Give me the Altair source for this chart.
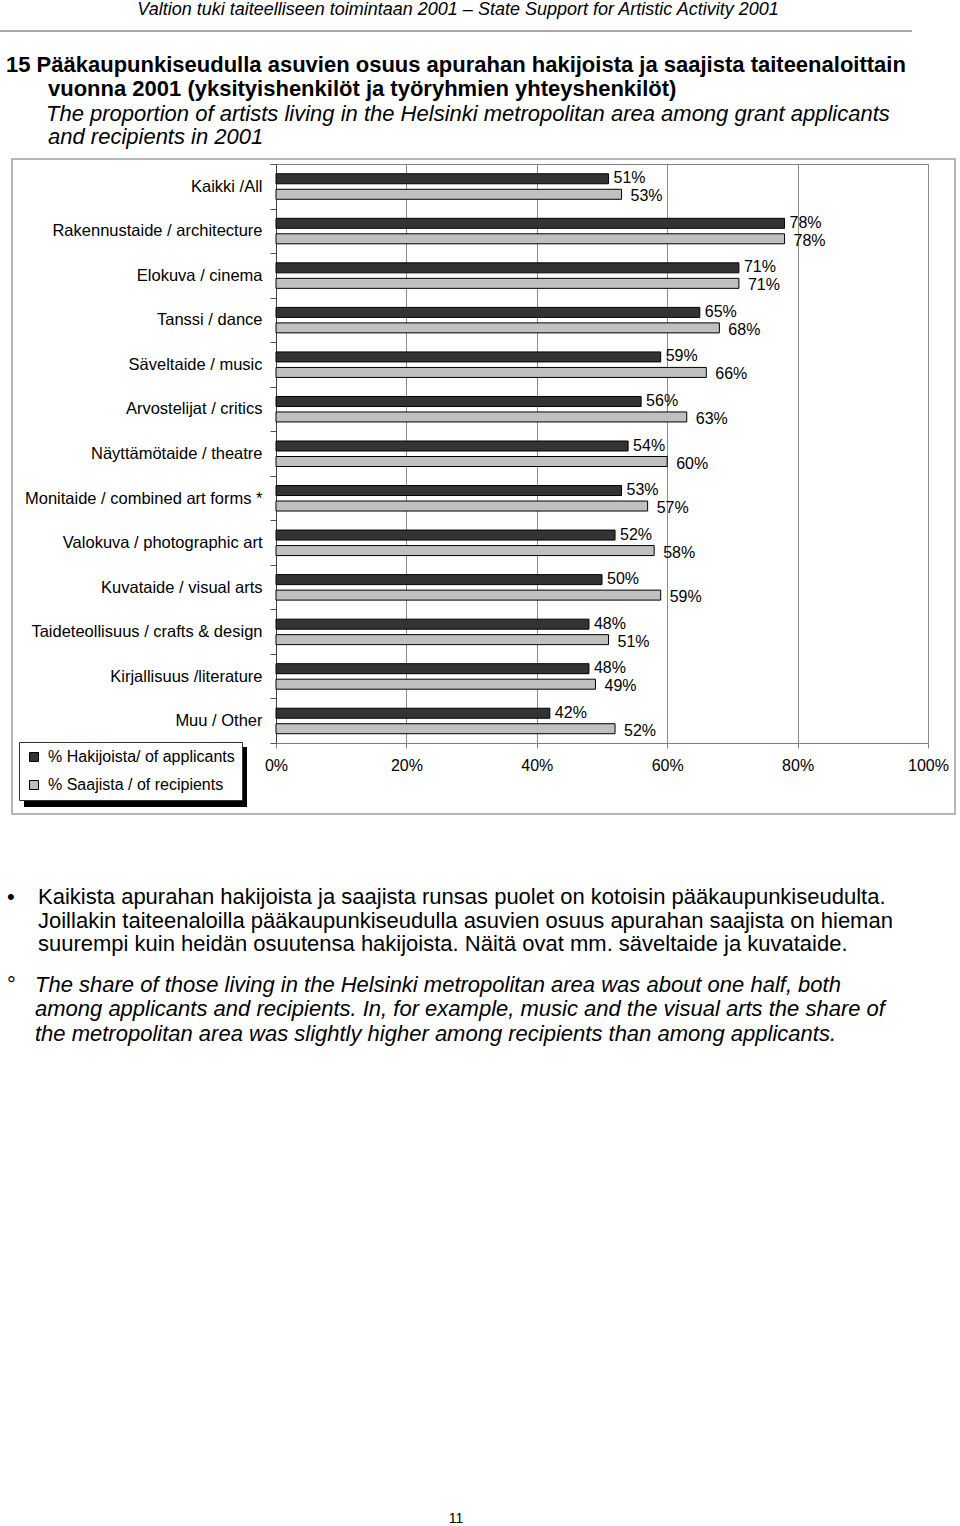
import altair as alt
import pandas as pd

categories = [
    "Kaikki /All",
    "Rakennustaide / architecture",
    "Elokuva / cinema",
    "Tanssi / dance",
    "Säveltaide / music",
    "Arvostelijat / critics",
    "Näyttämötaide / theatre",
    "Monitaide / combined art forms *",
    "Valokuva / photographic art",
    "Kuvataide / visual arts",
    "Taideteollisuus / crafts & design",
    "Kirjallisuus /literature",
    "Muu / Other",
]
applicants = [51, 78, 71, 65, 59, 56, 54, 53, 52, 50, 48, 48, 42]
recipients = [53, 78, 71, 68, 66, 63, 60, 57, 58, 59, 51, 49, 52]
series_names = ["% Hakijoista/ of applicants", "% Saajista / of recipients"]
x_ticks = [0, 20, 40, 60, 80, 100]

rows = []
for c, a, r in zip(categories, applicants, recipients):
    rows.append({"cat": c, "series": series_names[0], "value": a})
    rows.append({"cat": c, "series": series_names[1], "value": r})
df = pd.DataFrame(rows)

DARK = "#333333"
LIGHT = "#c0c0c0"
SANS = "Liberation Sans, Arial, sans-serif"

W, H = 652, 579
OX, OY = 276, 164  # page position of plot origin

base = alt.Chart(df)

y_enc = alt.Y(
    "cat:N",
    sort=categories,
    title=None,
    scale=alt.Scale(paddingInner=0, paddingOuter=0),
    axis=alt.Axis(
        labelFont=SANS, labelFontSize=16.5, labelColor="black", labelLimit=400,
        tickBand="extent", tickSize=6, tickColor="#555555",
        domainColor="#404040", labelPadding=8, grid=False,
    ),
)
x_enc = alt.X(
    "value:Q",
    title=None,
    scale=alt.Scale(domain=[0, 100], nice=False),
    axis=alt.Axis(
        values=x_ticks, labelExpr="datum.value + '%'", labelFont=SANS,
        labelFontSize=16, labelColor="black", grid=True, gridColor="#8c8c8c",
        gridWidth=1, domainColor="#808080", tickColor="#808080", tickSize=5,
        labelPadding=9, labelFlush=False, labelOverlap=False,
    ),
)
color_enc = alt.Color(
    "series:N",
    scale=alt.Scale(domain=series_names, range=[DARK, LIGHT]),
    legend=alt.Legend(
        title=None, orient="none", legendX=-257, legendY=578,
        labelFont=SANS, labelFontSize=16, labelColor="black",
        symbolType="square", symbolSize=81, symbolStrokeColor="black",
        symbolStrokeWidth=1, symbolOpacity=1, labelOffset=6, rowPadding=12,
        padding=7, fillColor="white", strokeColor="#333333",
        labelLimit=400,
    ),
)

shadow = alt.Chart(alt.Data(values=[{}])).mark_rect(color="black").encode(
    x=alt.value(-252), x2=alt.value(-29), y=alt.value(583), y2=alt.value(643)
)

bars_a = base.transform_filter(alt.datum.series == series_names[0]).mark_bar(
    size=10, yOffset=-7.5, stroke="black", strokeWidth=1
).encode(y=y_enc, x=x_enc, color=color_enc)
bars_r = base.transform_filter(alt.datum.series == series_names[1]).mark_bar(
    size=10, yOffset=8, stroke="black", strokeWidth=1
).encode(y=y_enc, x=x_enc, color=color_enc)

lab_a = base.transform_filter(alt.datum.series == series_names[0]).transform_calculate(
    label="datum.value + '%'"
).mark_text(align="left", baseline="middle", dx=5, yOffset=-8, font=SANS,
            fontSize=16, color="black").encode(
    y=alt.Y("cat:N", sort=categories), x="value:Q", text="label:N"
)
lab_r = base.transform_filter(alt.datum.series == series_names[1]).transform_calculate(
    label="datum.value + '%'"
).mark_text(align="left", baseline="middle", dx=9, yOffset=10, font=SANS,
            fontSize=16, color="black").encode(
    y=alt.Y("cat:N", sort=categories), x="value:Q", text="label:N"
)


def txt(s, px, py, size=19, weight="normal", style="normal", align="left",
        font=SANS, color="black"):
    return alt.Chart(alt.Data(values=[{}])).mark_text(
        align=align, baseline="alphabetic", fontSize=size, fontWeight=weight,
        fontStyle=style, font=font, color=color,
    ).encode(x=alt.value(px - OX), y=alt.value(py - OY), text=alt.value(s))


def rule(x1, x2, y1, y2, color, width):
    return alt.Chart(alt.Data(values=[{}])).mark_rule(
        color=color, strokeWidth=width
    ).encode(x=alt.value(x1 - OX), x2=alt.value(x2 - OX),
             y=alt.value(y1 - OY), y2=alt.value(y2 - OY))


frame = alt.Chart(alt.Data(values=[{}])).mark_rect(
    fill="white", fillOpacity=0, stroke="#a0a0a0", strokeWidth=1.5
).encode(x=alt.value(12 - OX), x2=alt.value(955 - OX),
         y=alt.value(159 - OY), y2=alt.value(814 - OY))

texts = [
    txt("Valtion tuki taiteelliseen toimintaan 2001 – State Support for Artistic Activity 2001",
        458, 15, size=18, style="italic", align="center"),
    rule(0, 912, 31, 31, "#a8a8a8", 2),
    txt("15  Pääkaupunkiseudulla asuvien osuus apurahan hakijoista ja saajista taiteenaloittain",
        6, 72, size=22, weight="bold"),
    txt("vuonna  2001 (yksityishenkilöt ja työryhmien yhteyshenkilöt)",
        48, 96, size=22, weight="bold"),
    txt("The proportion of artists living in the Helsinki metropolitan area among grant applicants",
        46, 121, size=22, style="italic"),
    txt("and  recipients in 2001", 48, 144, size=22, style="italic"),
    txt("•", 7, 904, size=22),
    txt("Kaikista apurahan hakijoista ja saajista runsas puolet on kotoisin pääkaupunkiseudulta.",
        38, 904, size=22),
    txt("Joillakin taiteenaloilla pääkaupunkiseudulla asuvien osuus apurahan saajista on hieman",
        38, 928, size=22),
    txt("suurempi kuin heidän osuutensa hakijoista. Näitä ovat mm. säveltaide ja kuvataide.",
        38, 951, size=22),
    txt("°", 7, 992, size=22),
    txt("The share of those living in the Helsinki metropolitan area was about one half, both",
        35, 992, size=22, style="italic"),
    txt("among applicants and recipients. In, for example, music and the visual arts the share of",
        35, 1016, size=22, style="italic"),
    txt("the metropolitan area was slightly higher among recipients than among applicants.",
        35, 1041, size=22, style="italic"),
    txt("11", 456, 1523, size=14, align="center"),
]

chart = alt.layer(
    frame, shadow, bars_a, bars_r, lab_a, lab_r, *texts
).properties(
    width=W, height=H,
    padding={"left": OX, "top": OY, "right": 960 - OX - W, "bottom": 1526 - OY - H},
    autosize=alt.AutoSizeParams(type="none"),
    background="white",
).configure_view(stroke="#808080", strokeWidth=1)

chart.save("out.html", embed_options={"renderer": "svg", "actions": False})
